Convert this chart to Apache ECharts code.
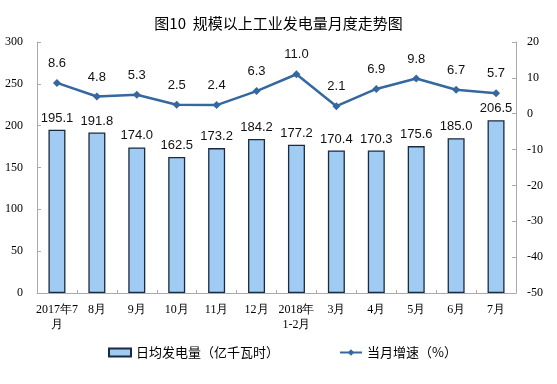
<!DOCTYPE html>
<html><head><meta charset="utf-8">
<script src="https://cdn.jsdelivr.net/npm/echarts@6/dist/echarts.min.js"></script>
<style>html,body{margin:0;padding:0;background:#fff}#c{width:557px;height:384px}</style>
</head><body><div id="c"></div>
<script>
var categories = ['2017年7\n月','8月','9月','10月','11月','12月','2018年\n1-2月','3月','4月','5月','6月','7月'];
var dailyOutput = [195.1,191.8,174.0,162.5,173.2,184.2,177.2,170.4,170.3,175.6,185.0,206.5];
var growthRate = [8.6,4.8,5.3,2.5,2.4,6.3,11.0,2.1,6.9,9.8,6.7,5.7];
var leftTicks = [0,300,50];
var rightTicks = [-50,20,10];
var titleText = '图10  规模以上工业发电量月度走势图';
var barName = '日均发电量（亿千瓦时）';
var lineName = '当月增速（%）';

var chart = echarts.init(document.getElementById('c'), null, {renderer:'canvas'});
var serif = '"Liberation Serif","DejaVu Serif",serif';
var sans = '"Liberation Sans",Arial,"Noto Sans CJK SC",sans-serif';
chart.setOption({
  animation:false,
  title:{text:titleText,left:'center',top:11,textStyle:{fontSize:15,fontWeight:'normal',color:'#000',fontFamily:'"Noto Sans CJK SC",sans-serif'}},
  grid:{left:37,right:41,top:42,bottom:91,containLabel:false},
  legend:{bottom:20,left:103,itemGap:60,itemWidth:22,itemHeight:8,textStyle:{fontSize:13,color:'#000',fontFamily:'"Noto Sans CJK SC",sans-serif'},
    data:[{name:barName,icon:'rect'},{name:lineName}]},
  xAxis:{type:'category',data:categories,
    axisLine:{lineStyle:{color:'#aaa'}},
    axisTick:{show:true,inside:true,length:3,lineStyle:{color:'#aaa'}},
    axisLabel:{fontFamily:serif,fontSize:12,color:'#000',margin:9,interval:0,lineHeight:15}},
  yAxis:[
    {type:'value',min:leftTicks[0],max:leftTicks[1],interval:leftTicks[2],
     splitLine:{show:false},axisLine:{show:true,lineStyle:{color:'#aaa'}},
     axisTick:{show:true,inside:true,length:4,lineStyle:{color:'#aaa'}},
     axisLabel:{fontFamily:serif,fontSize:12,color:'#000',margin:14}},
    {type:'value',min:rightTicks[0],max:rightTicks[1],interval:rightTicks[2],
     splitLine:{show:false},axisLine:{show:true,lineStyle:{color:'#aaa'}},
     axisTick:{show:true,inside:true,length:4,lineStyle:{color:'#aaa'}},
     axisLabel:{fontFamily:serif,fontSize:12,color:'#000',margin:11}}
  ],
  series:[
    {name:barName,type:'bar',data:dailyOutput,yAxisIndex:0,barWidth:17,
     itemStyle:{color:'#a0cbf3',borderColor:'#1a2a40',borderWidth:1.3},
     label:{show:true,position:'top',distance:5,fontFamily:sans,fontSize:13,color:'#111',formatter:function(p){return p.value.toFixed(1);}}},
    {name:lineName,type:'line',data:growthRate,yAxisIndex:1,symbol:'diamond',symbolSize:8,
     lineStyle:{color:'#34689e',width:2.5},itemStyle:{color:'#34689e'},
     label:{show:true,position:'top',distance:9,fontFamily:sans,fontSize:13,color:'#111',formatter:function(p){return p.value.toFixed(1);}}}
  ]
});
</script></body></html>
